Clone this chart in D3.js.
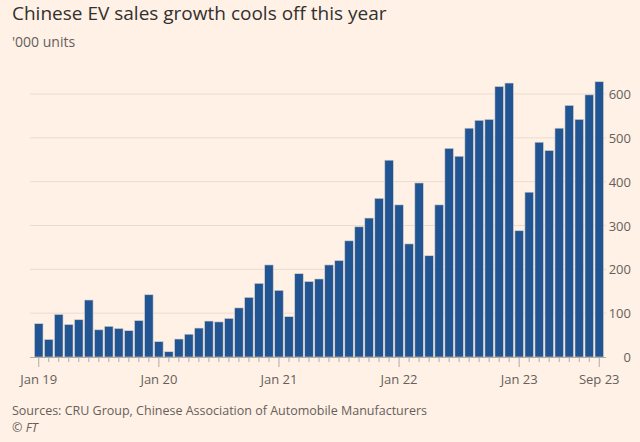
<!DOCTYPE html><html><head><meta charset="utf-8"><script src="https://cdn.jsdelivr.net/npm/d3@7"></script>
<style>body{margin:0;background:#fff1e5}svg{font-family:"Open Sans",sans-serif}</style></head><body><svg width="640" height="442"></svg>
<script>
const months=d3.range(57).map(i=>new Date(2019,i,1));
const values=[76,40,97,74,85,130,62,70,65,60,83,142,
35,12,41,52,66,82,80,88,112,136,168,210,
152,92,190,172,178,210,220,265,297,317,362,449,
347,258,397,231,347,476,458,522,540,542,617,625,
288,376,490,471,522,574,542,598,628];
const tickLabels=[["Jan 19",0],["Jan 20",12],["Jan 21",24],["Jan 22",36],["Jan 23",48],["Sep 23",56]];
const yTicks=[0,100,200,300,400,500,600];
const svg=d3.select("svg");
svg.append("rect").attr("width",640).attr("height",442).attr("fill","#fff1e5");
const x=d3.scaleBand().domain(d3.range(57)).range([34,604]).paddingInner(0.15).paddingOuter(0.05);
const y=d3.scaleLinear().domain([0,600]).range([357,94]);
const g=svg.append("g");
yTicks.forEach(t=>{
 if(t>0)g.append("line").attr("x1",30).attr("x2",606).attr("y1",y(t)).attr("y2",y(t)).attr("stroke","#e9dcd1");
 g.append("text").attr("x",631).attr("y",y(t)+5).attr("text-anchor","end").attr("font-size",13).attr("fill","#66605c").text(t);
});
g.selectAll(".b").data(values).join("rect").attr("x",(d,i)=>x(i)).attr("width",x.bandwidth())
 .attr("y",d=>y(d)).attr("height",d=>y(0)-y(d)).attr("fill","#205493").attr("stroke","#d6cfc9").attr("stroke-width",0.6);
g.append("line").attr("x1",30).attr("x2",606).attr("y1",357.5).attr("y2",357.5).attr("stroke","#b3aba5");
d3.range(57).forEach(i=>{
 const cx=x(i)+x.bandwidth()/2;
 const big=tickLabels.some(t=>t[1]===i);
 g.append("line").attr("x1",cx).attr("x2",cx).attr("y1",358).attr("y2",big?367:362).attr("stroke","#b3aba5");
});
tickLabels.forEach(([l,i])=>{
 const cx=x(i)+x.bandwidth()/2;
 g.append("text").attr("x",cx).attr("y",384).attr("text-anchor","middle").attr("font-size",13).attr("fill","#66605c").text(l);
});
svg.append("text").attr("x",12).attr("y",20).attr("font-size",19).attr("fill","#33302e").text("Chinese EV sales growth cools off this year");
svg.append("text").attr("x",12).attr("y",47).attr("font-size",14).attr("fill","#66605c").text("'000 units");
svg.append("text").attr("x",12).attr("y",415).attr("font-size",12.5).attr("fill","#66605c").text("Sources: CRU Group, Chinese Association of Automobile Manufacturers");
svg.append("text").attr("x",12).attr("y",432).attr("font-size",12.5).attr("font-style","italic").attr("fill","#66605c").text("© FT");
</script></body></html>
